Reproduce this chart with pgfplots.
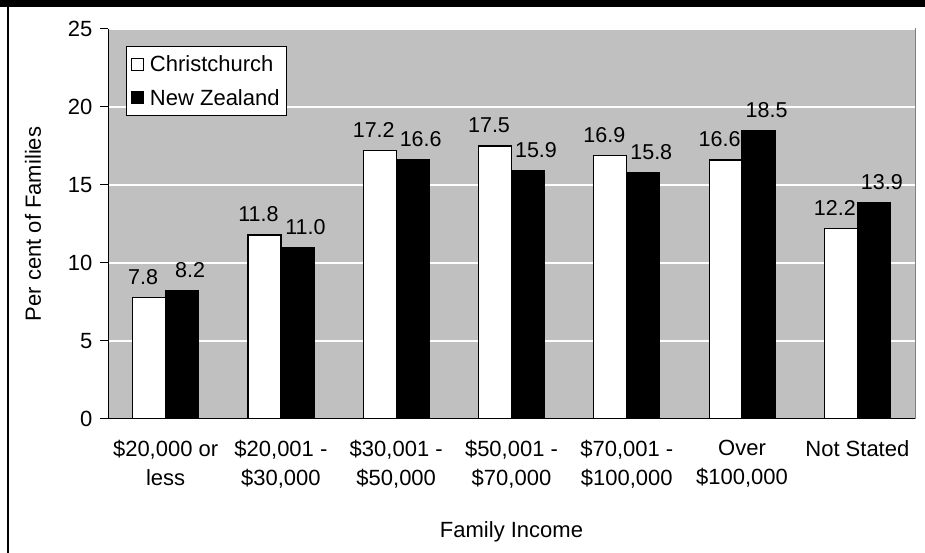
\documentclass[border=0pt]{standalone}
\usepackage{pgfplots}
\pgfplotsset{compat=1.18}
\usepackage{fontspec}
\setmainfont{Liberation Sans}
\definecolor{excelgray}{HTML}{C0C0C0}
\begin{document}
\begin{tikzpicture}[x=1pt,y=1pt]
\useasboundingbox (0,0) rectangle (925,553);
\fill[white] (0,0) rectangle (925,553);
\fill[black] (0,546) rectangle (925,553);
\fill[black] (7,0) rectangle (9,553);
\begin{axis}[
  at={(108pt,134pt)}, anchor=south west,
  scale only axis, width=807pt, height=390pt,
  /pgf/number format/assume math mode=true,
  font=\fontsize{22}{29}\selectfont,
  ymin=0, ymax=25, xmin=-0.5, xmax=6.5,
  ytick={0,5,...,25},
  xtick={0,...,6},
  xticklabels={{\$20,000 or\\less},{\$20,001 -\\\$30,000},{\$30,001 -\\\$50,000},{\$50,001 -\\\$70,000},{\$70,001 -\\\$100,000},{Over\\\$100,000},{Not Stated}},
  x tick label style={align=center, yshift=-10pt, font=\fontsize{22}{29}\selectfont},
  y tick label style={xshift=-4pt, font=\fontsize{22}{29}\selectfont},
  minor xtick={-0.5,0.5,...,6.5},
  x tick style={draw=none},
  minor x tick style={black, line width=1pt},
  y tick style={black, line width=1pt},
  major tick length=8pt, minor tick length=8pt,
  tick align=outside,
  axis x line*=bottom, axis y line*=left,
  axis line style={black, line width=1pt, -},
  axis background/.style={fill=excelgray, draw=gray, line width=1pt},
  ymajorgrids, major grid style={white, line width=1.5pt},
  ybar, bar width=0.286,
  ylabel={Per cent of Families},
  ylabel style={at={(axis description cs:-0.093,0.5)}, anchor=center, font=\fontsize{22}{29}\selectfont},
  xlabel={Family Income},
  xlabel style={at={(axis description cs:0.5,-0.288)}, anchor=center, font=\fontsize{22}{29}\selectfont},
  nodes near coords={\pgfmathprintnumber[fixed, fixed zerofill, precision=1]{\pgfplotspointmeta}},
  every node near coord/.append style={font=\fontsize{21.5}{24}\selectfont, black, anchor=south, yshift=9pt},
  legend style={at={(axis description cs:0.0223,0.956)}, anchor=north west, draw=black, line width=1pt, fill=white, font=\fontsize{22}{26}\selectfont, row sep=12pt, inner xsep=5pt, inner ysep=7pt},
  legend cell align=left,
  legend image code/.code={\draw[#1, line width=1pt] (0pt,-6pt) rectangle (12pt,6pt); \path[draw=none, fill=none] (0pt,0pt) -- (16pt,0pt);},
]
\addplot[fill=white, draw=black, line width=1.2pt, bar shift=-0.143, every node near coord/.append style={xshift=-6pt}]
  coordinates {(0,7.8) (1,11.8) (2,17.2) (3,17.5) (4,16.9) (5,16.6) (6,12.2)};
\addplot[fill=black, draw=black, line width=1.2pt, bar shift=0.143, every node near coord/.append style={xshift=8pt}]
  coordinates {(0,8.2) (1,11.0) (2,16.6) (3,15.9) (4,15.8) (5,18.5) (6,13.9)};
\legend{Christchurch, New Zealand}
\end{axis}
\end{tikzpicture}
\end{document}
